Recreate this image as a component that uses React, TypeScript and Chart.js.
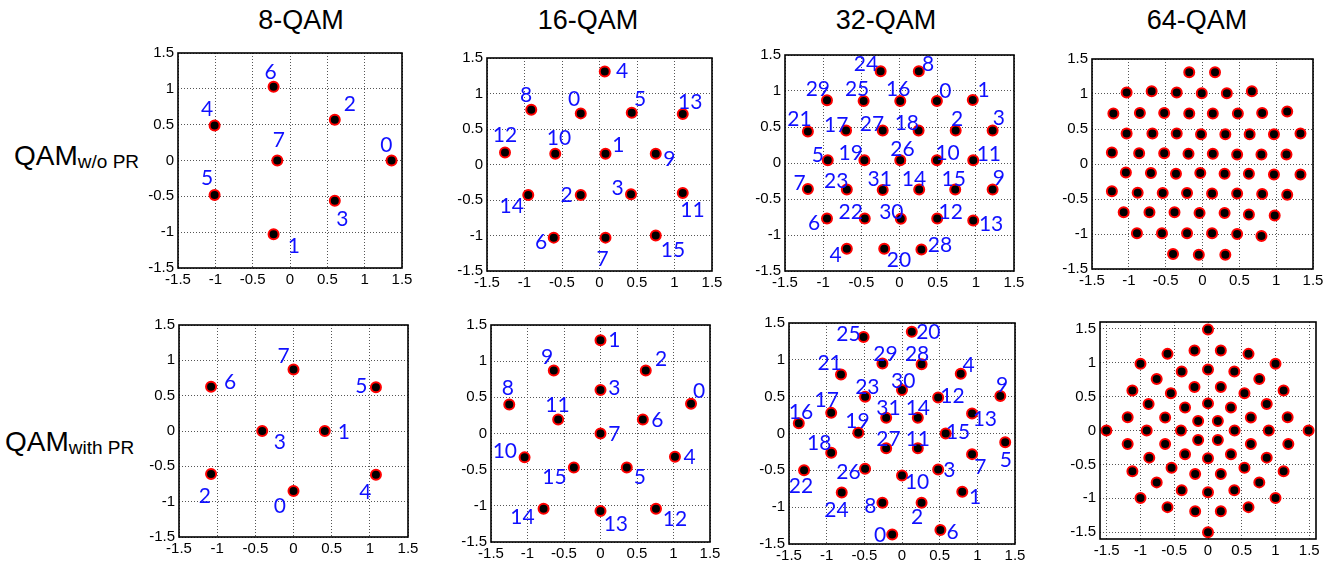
import React, { useEffect, useRef } from 'react';
import { Chart, registerables } from 'chart.js';

Chart.register(...registerables);

// ---------- data ----------
const AXIS_TICKS = [-1.5, -1, -0.5, 0, 0.5, 1, 1.5];
const COLUMN_TITLES = ['8-QAM', '16-QAM', '32-QAM', '64-QAM'];
const ROW_MAIN = ['QAM', 'QAM'];
const ROW_SUB = ['w/o PR', 'with PR'];

// Points are listed in symbol order: index i carries label "i".
const qam8NoPrPts = [[1.36, 0], [-0.22, -1.03], [0.6, 0.57], [0.6, -0.56], [-1.01, 0.49], [-1.01, -0.48], [-0.22, 1.03], [-0.17, 0]];
const qam8NoPrLabels = [[1.29, 0.22], [0.05, -1.19], [0.8, 0.79], [0.7, -0.81], [-1.11, 0.72], [-1.11, -0.24], [-0.26, 1.24], [-0.15, 0.29]];

const qam16NoPrPts = [[-0.25, 0.72], [0.08, 0.15], [-0.25, -0.43], [0.42, -0.42], [0.07, 1.31], [0.43, 0.73], [-0.61, -1.03], [0.08, -1.03], [-0.91, 0.77], [0.75, 0.15], [-0.59, 0.15], [1.11, -0.4], [-1.26, 0.17], [1.11, 0.71], [-0.95, -0.43], [0.75, -1.0]];
const qam16NoPrLabels = [[-0.34, 0.93], [0.25, 0.28], [-0.44, -0.42], [0.24, -0.32], [0.3, 1.33], [0.54, 0.93], [-0.78, -1.08], [0.04, -1.33], [-0.98, 0.99], [0.93, 0.09], [-0.54, 0.38], [1.24, -0.64], [-1.26, 0.42], [1.21, 0.89], [-1.17, -0.58], [0.98, -1.2]];

const qam32NoPrPts = [[0.49, 0.86], [0.96, 0.876], [0.736, 0.45], [1.22, 0.45], [-0.69, -1.19], [-0.94, 0.037], [-0.95, -0.77], [-1.2, -0.36], [0.253, 1.275], [1.22, -0.367], [0.49, 0.037], [0.966, 0.037], [0.494, -0.77], [0.966, -0.8], [0.258, -0.367], [0.73, -0.367], [0.01, 0.86], [-0.7, 0.45], [0.25, 0.45], [-0.46, 0.037], [-0.2, -1.19], [-1.2, 0.436], [-0.455, -0.77], [-0.69, -0.367], [-0.247, 1.275], [-0.47, 0.86], [0.01, 0.037], [-0.22, 0.45], [0.287, -1.2], [-0.95, 0.87], [0.017, -0.775], [-0.22, -0.376]];
const qam32NoPrLabels = [[0.6, 1.01], [1.1, 1.02], [0.753, 0.62], [1.3, 0.63], [-0.837, -1.27], [-1.07, 0.12], [-1.12, -0.83], [-1.31, -0.27], [0.376, 1.38], [1.3, -0.206], [0.63, 0.15], [1.17, 0.13], [0.67, -0.674], [1.2, -0.835], [0.19, -0.216], [0.71, -0.216], [-0.017, 1.04], [-0.83, 0.54], [0.096, 0.565], [-0.64, 0.14], [-0.006, -1.34], [-1.31, 0.62], [-0.64, -0.67], [-0.83, -0.24], [-0.44, 1.38], [-0.556, 1.04], [0.04, 0.2], [-0.36, 0.55], [0.53, -1.13], [-1.07, 1.04], [-0.107, -0.674], [-0.26, -0.216]];

const qam64NoPrPts = [
  [-0.18, 1.31], [0.17, 1.31],
  [-1.03, 1.02], [-0.69, 1.04], [-0.35, 1.02], [-0.01, 1.01], [0.33, 1.01], [0.67, 1.04],
  [-1.21, 0.72], [-0.85, 0.73], [-0.52, 0.73], [-0.18, 0.72], [0.14, 0.72], [0.48, 0.72], [0.81, 0.73], [1.15, 0.75],
  [-1.03, 0.435], [-0.68, 0.435], [-0.35, 0.435], [-0.02, 0.425], [0.31, 0.425], [0.64, 0.425], [0.97, 0.425], [1.33, 0.435],
  [-1.23, 0.165], [-0.86, 0.155], [-0.52, 0.155], [-0.19, 0.145], [0.14, 0.145], [0.47, 0.135], [0.8, 0.135], [1.14, 0.135],
  [-1.04, -0.12], [-0.7, -0.13], [-0.36, -0.14], [-0.03, -0.13], [0.3, -0.14], [0.63, -0.14], [0.97, -0.15], [1.33, -0.15],
  [-1.23, -0.39], [-0.88, -0.41], [-0.54, -0.415], [-0.21, -0.415], [0.13, -0.42], [0.47, -0.42], [0.81, -0.43], [1.15, -0.44],
  [-1.07, -0.69], [-0.72, -0.69], [-0.38, -0.69], [-0.04, -0.7], [0.3, -0.7], [0.63, -0.72], [0.98, -0.735],
  [-0.89, -0.99], [-0.55, -0.99], [-0.21, -0.99], [0.13, -0.99], [0.47, -1.0], [0.8, -1.03],
  [-0.4, -1.285], [-0.05, -1.295], [0.31, -1.295]
];

const qam8PrPts = [[0, -0.85], [0.41, 0], [-1.08, -0.61], [-0.41, 0], [1.08, -0.62], [1.08, 0.62], [-1.08, 0.626], [0, 0.87]];
const qam8PrLabels = [[-0.18, -1.06], [0.66, 0], [-1.16, -0.91], [-0.18, -0.15], [0.94, -0.86], [0.89, 0.65], [-0.83, 0.7], [-0.13, 1.07]];

const qam16PrPts = [[1.24, 0.41], [0, 1.29], [0.62, 0.87], [0, 0.6], [1.02, -0.32], [0.36, -0.47], [0.58, 0.195], [0, 0], [-1.25, 0.4], [-0.64, 0.87], [-1.04, -0.33], [-0.58, 0.195], [0.76, -1.04], [0, -1.07], [-0.78, -1.04], [-0.365, -0.47]];
const qam16PrLabels = [[1.35, 0.6], [0.19, 1.3], [0.83, 1.03], [0.19, 0.64], [1.22, -0.315], [0.54, -0.59], [0.78, 0.195], [0.19, 0], [-1.27, 0.64], [-0.73, 1.07], [-1.31, -0.23], [-0.59, 0.4], [1.02, -1.18], [0.21, -1.25], [-1.07, -1.15], [-0.63, -0.59]];

const qam32PrPts = [[-0.13, -1.37], [0.8, -0.79], [0.26, -0.94], [0.48, -0.49], [0.78, 0.81], [1.37, -0.12], [0.51, -1.31], [0.93, -0.28], [-0.26, -0.94], [1.305, 0.51], [0, -0.57], [0.21, -0.2], [0.48, 0.49], [0.93, 0.27], [0.21, 0.215], [0.58, 0], [-1.37, 0.14], [-0.94, 0.28], [-0.94, -0.26], [-0.58, 0.01], [0.13, 1.38], [-0.81, 0.8], [-1.3, -0.5], [-0.49, 0.5], [-0.8, -0.8], [-0.51, 1.31], [-0.49, -0.48], [-0.21, -0.2], [0.26, 0.94], [-0.26, 0.95], [0, 0.59], [-0.21, 0.215]];
const qam32PrLabels = [[-0.29, -1.37], [0.97, -0.85], [0.2, -1.12], [0.63, -0.49], [0.885, 0.93], [1.38, -0.355], [0.67, -1.33], [1.04, -0.45], [-0.42, -0.98], [1.33, 0.67], [0.2, -0.65], [0.21, -0.067], [0.67, 0.52], [1.1, 0.21], [0.21, 0.354], [0.745, 0.027], [-1.34, 0.3], [-1.0, 0.455], [-1.1, -0.125], [-0.59, 0.17], [0.35, 1.39], [-0.96, 0.97], [-1.34, -0.71], [-0.46, 0.64], [-0.87, -1.03], [-0.71, 1.36], [-0.71, -0.52], [-0.18, -0.067], [0.2, 1.08], [-0.22, 1.09], [0.017, 0.72], [-0.18, 0.354]];

const qam64PrPts = [
  [0, 1.49],
  [-0.2, 1.18], [0.19, 1.18],
  [-0.6, 1.13], [0.6, 1.13],
  [-1.0, 0.985], [1.0, 0.985],
  [-0.39, 0.87], [0, 0.9], [0.39, 0.87],
  [-0.76, 0.76], [0.76, 0.76],
  [-0.2, 0.64], [0.19, 0.64],
  [-1.12, 0.59], [1.12, 0.59],
  [-0.55, 0.55], [0.54, 0.55],
  [0, 0.4],
  [-0.88, 0.39], [0.87, 0.39],
  [-0.34, 0.34], [0.34, 0.34],
  [-1.19, 0.196], [1.18, 0.196],
  [-0.635, 0.19], [0.635, 0.19],
  [-0.146, 0.14], [0.146, 0.14],
  [-1.505, 0], [-0.908, 0], [-0.4, 0], [0.394, 0], [0.9, 0], [1.49, 0],
  [-0.146, -0.14], [0.146, -0.14],
  [-1.19, -0.2], [1.19, -0.2],
  [-0.635, -0.2], [0.635, -0.2],
  [-0.34, -0.35], [0.34, -0.35],
  [0, -0.41],
  [-0.87, -0.4], [0.87, -0.4],
  [-0.54, -0.55], [0.54, -0.55],
  [-1.12, -0.6], [1.12, -0.6],
  [-0.19, -0.64], [0.19, -0.64],
  [-0.76, -0.765], [0.76, -0.765],
  [-0.39, -0.88], [0, -0.91], [0.39, -0.88],
  [-1.0, -0.995], [1.0, -0.995],
  [-0.6, -1.13], [0.6, -1.13],
  [-0.19, -1.19], [0.19, -1.19],
  [0, -1.5]
];

const AXIS_LIMITS = [1.5, 1.5, 1.5, 1.5, 1.5, 1.5, 1.5, 1.6];

// ---------- layout ----------
const PLOT_RECTS = [
  [178, 52, 402, 268], [487, 57, 712, 271], [785, 54, 1014, 271], [1092, 58, 1313, 269],
  [179, 324, 408, 537], [491, 324, 710, 542], [789, 322, 1015, 544], [1100, 321, 1316, 539]
];
const TITLE_CENTERS = [301, 588, 886, 1197];
const ROW_LABEL_POS = [[14, 142], [5, 428]];

const PANELS = [
  { pts: qam8NoPrPts, labels: qam8NoPrLabels },
  { pts: qam16NoPrPts, labels: qam16NoPrLabels },
  { pts: qam32NoPrPts, labels: qam32NoPrLabels },
  { pts: qam64NoPrPts, labels: null },
  { pts: qam8PrPts, labels: qam8PrLabels },
  { pts: qam16PrPts, labels: qam16PrLabels },
  { pts: qam32PrPts, labels: qam32PrLabels },
  { pts: qam64PrPts, labels: null }
];

const SANS = '"Liberation Sans", Arial, sans-serif';
const LABEL_FONT = '21px Lato, "Open Sans", sans-serif';
const LABEL_COLOR = '#1010ff';
const PAD_L = 45, PAD_T = 12, PAD_R = 18, PAD_B = 26;

function makeAnnotPlugin(labels: number[][] | null) {
  return {
    id: 'annot',
    afterDraw(chart: any) {
      const { ctx, chartArea: a, scales } = chart;
      ctx.save();
      ctx.strokeStyle = '#000';
      ctx.lineWidth = 1.6;
      ctx.strokeRect(a.left, a.top, a.right - a.left, a.bottom - a.top);
      if (labels) {
        ctx.fillStyle = LABEL_COLOR;
        ctx.font = LABEL_FONT;
        ctx.textAlign = 'center';
        ctx.textBaseline = 'alphabetic';
        labels.forEach(([lx, ly], i) => {
          ctx.fillText(String(i), scales.x.getPixelForValue(lx), scales.y.getPixelForValue(ly) + 7.5);
        });
      }
      ctx.restore();
    }
  };
}

function axisOptions(lim: number, isX: boolean) {
  return {
    type: 'linear' as const,
    min: -lim,
    max: lim,
    afterBuildTicks: (s: any) => { s.ticks = AXIS_TICKS.map((v) => ({ value: v })); },
    afterFit: (s: any) => { if (isX) s.height = PAD_B; else s.width = PAD_L; },
    ticks: {
      autoSkip: false,
      maxRotation: 0,
      padding: isX ? 3 : 4,
      color: '#000',
      font: { family: SANS, size: 15 },
      callback: (v: any) => String(Number(v))
    },
    grid: { color: '#555', lineWidth: 1, drawTicks: false },
    border: { display: false, dash: [1, 2] }
  };
}

function Panel({ idx }: { idx: number }) {
  const ref = useRef<HTMLCanvasElement>(null);
  const [L, T, R, B] = PLOT_RECTS[idx];
  const w = R - L + PAD_L + PAD_R;
  const h = B - T + PAD_T + PAD_B;
  useEffect(() => {
    const p = PANELS[idx];
    const lim = AXIS_LIMITS[idx];
    const chart = new Chart(ref.current as HTMLCanvasElement, {
      type: 'scatter',
      data: {
        datasets: [{
          data: p.pts.map(([x, y]) => ({ x, y })),
          pointRadius: 5,
          pointHoverRadius: 5,
          pointBorderWidth: 2,
          pointBackgroundColor: '#000',
          pointBorderColor: '#ff0000'
        }]
      },
      options: {
        responsive: false,
        animation: false,
        devicePixelRatio: 1,
        events: [],
        layout: { padding: { top: PAD_T, right: PAD_R, left: 0, bottom: 0 } },
        plugins: { legend: { display: false }, tooltip: { enabled: false } },
        scales: { x: axisOptions(lim, true), y: axisOptions(lim, false) }
      } as any,
      plugins: [makeAnnotPlugin(p.labels)]
    });
    return () => chart.destroy();
  }, [idx]);
  return (
    <canvas
      ref={ref}
      width={w}
      height={h}
      style={{ position: 'absolute', left: L - PAD_L, top: T - PAD_T, width: w, height: h }}
    />
  );
}

export default function App() {
  return (
    <div style={{ position: 'fixed', left: 0, top: 0, width: 1334, height: 567, background: '#fff', overflow: 'hidden' }}>
      {COLUMN_TITLES.map((t, i) => (
        <div
          key={t}
          style={{
            position: 'absolute', left: TITLE_CENTERS[i] - 100, top: 7, width: 200, textAlign: 'center',
            font: `27px ${SANS}`, lineHeight: '27px', color: '#000'
          }}
        >
          {t}
        </div>
      ))}
      {ROW_MAIN.map((m, i) => (
        <div
          key={i}
          style={{
            position: 'absolute', left: ROW_LABEL_POS[i][0], top: ROW_LABEL_POS[i][1], whiteSpace: 'nowrap',
            font: `28px ${SANS}`, lineHeight: '28px', color: '#000'
          }}
        >
          {m}
          <span style={{ fontSize: 19, verticalAlign: '-3px' }}>{ROW_SUB[i]}</span>
        </div>
      ))}
      {PANELS.map((_, i) => <Panel key={i} idx={i} />)}
    </div>
  );
}
